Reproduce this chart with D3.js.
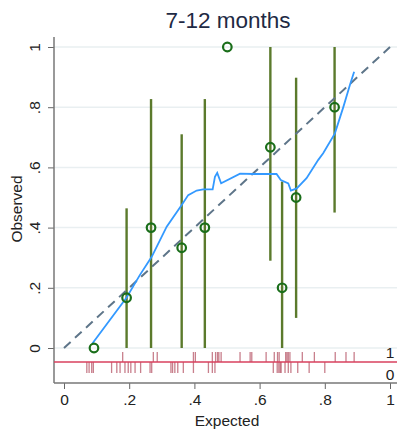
<!DOCTYPE html>
<html>
<head>
<meta charset="utf-8" />
<script src="https://d3js.org/d3.v7.min.js"></script>
<style>
  body { margin: 0; background: #fff; }
  * { font-family: "Liberation Sans", Arial, sans-serif; }
</style>
</head>
<body>
<script>
// grouped calibration points
const expected = [0.092, 0.192, 0.267, 0.361, 0.432, 0.501, 0.633, 0.669, 0.712, 0.830];
const observed = [0.0, 0.167, 0.40, 0.333, 0.40, 1.0, 0.667, 0.20, 0.50, 0.80];
const ciLow    = [0.0, 0.0, 0.0, 0.0, 0.0, 1.0, 0.29, 0.0, 0.10, 0.45];
const ciHigh   = [0.0, 0.464, 0.827, 0.71, 0.827, 1.0, 1.0, 0.553, 0.898, 1.0];

// lowess smoother
const smoothX = [0.087, 0.192, 0.233, 0.269, 0.315, 0.361, 0.381, 0.407, 0.427, 0.456, 0.463, 0.470, 0.482,
                 0.540, 0.581, 0.652, 0.665, 0.688, 0.696, 0.714, 0.744, 0.780, 0.795, 0.831, 0.857, 0.877, 0.890];
const smoothY = [0.015, 0.168, 0.243, 0.303, 0.403, 0.475, 0.508, 0.523, 0.527, 0.527, 0.569, 0.582, 0.547,
                 0.579, 0.578, 0.578, 0.558, 0.547, 0.523, 0.530, 0.564, 0.625, 0.647, 0.713, 0.801, 0.874, 0.918];

// rug of predictions by outcome
const rugOnes = [0.18, 0.274, 0.286, 0.397, 0.403, 0.455, 0.465, 0.471, 0.475, 0.482, 0.54, 0.571, 0.576,
                 0.62, 0.645, 0.655, 0.66, 0.68, 0.684, 0.688, 0.693, 0.731, 0.768, 0.832, 0.865, 0.89];
const rugZeros = [0.07, 0.077, 0.085, 0.09, 0.146, 0.162, 0.172, 0.187, 0.197, 0.205, 0.218, 0.235, 0.264,
                  0.269, 0.328, 0.333, 0.34, 0.349, 0.366, 0.397, 0.443, 0.455, 0.463, 0.642, 0.654, 0.659,
                  0.663, 0.666, 0.678, 0.688, 0.696, 0.717, 0.752, 0.80];

const ticks = [0, 0.2, 0.4, 0.6, 0.8, 1];
const tickLabels = ["0", ".2", ".4", ".6", ".8", "1"];

const W = 398, H = 435;
const svg = d3.select("body").append("svg").attr("width", W).attr("height", H);

const x = d3.scaleLinear().domain([0, 1]).range([64, 390]);
const y = d3.scaleLinear().domain([0, 1]).range([348, 47]);
const axisLeft = 54, axisBottom = 383, rightEdge = 397;
const rugMid = 362;

// title
svg.append("text").attr("x", 228).attr("y", 28).attr("text-anchor", "middle")
  .attr("font-size", 22.5).attr("fill", "#1e2a44").text("7-12 months");

// gridlines
svg.append("g").selectAll("line").data(ticks).join("line")
  .attr("x1", axisLeft).attr("x2", rightEdge)
  .attr("y1", d => y(d)).attr("y2", d => y(d))
  .attr("stroke", "#e9eff1").attr("stroke-width", 1.5);

// y axis
const yAxis = svg.append("g").attr("transform", `translate(${axisLeft},0)`)
  .call(d3.axisLeft(y).tickValues(ticks).tickFormat((d, i) => tickLabels[i]).tickSize(6).tickPadding(0));
yAxis.select(".domain").remove();
yAxis.selectAll(".tick line").attr("stroke", "#666");
yAxis.selectAll(".tick text").attr("font-size", 15.5).attr("fill", "#222")
  .attr("text-anchor", "middle").attr("transform", "translate(-19,0) rotate(-90)").attr("dy", "0.35em").attr("x", 0);
svg.append("line").attr("x1", axisLeft).attr("x2", axisLeft).attr("y1", 37).attr("y2", axisBottom)
  .attr("stroke", "#777").attr("stroke-width", 1.5);

// x axis
const xAxis = svg.append("g").attr("transform", `translate(0,${axisBottom})`)
  .call(d3.axisBottom(x).tickValues(ticks).tickFormat((d, i) => tickLabels[i]).tickSize(6).tickPadding(5));
xAxis.select(".domain").remove();
xAxis.selectAll(".tick line").attr("stroke", "#666");
xAxis.selectAll(".tick text").attr("font-size", 15.5).attr("fill", "#222");
svg.append("line").attr("x1", axisLeft).attr("x2", rightEdge).attr("y1", axisBottom).attr("y2", axisBottom)
  .attr("stroke", "#777").attr("stroke-width", 1.5);

// axis titles
svg.append("text").attr("transform", "translate(22,209) rotate(-90)").attr("text-anchor", "middle")
  .attr("font-size", 15.5).attr("fill", "#222").text("Observed");
svg.append("text").attr("x", 227).attr("y", 426).attr("text-anchor", "middle")
  .attr("font-size", 15.5).attr("fill", "#222").text("Expected");

// rug
svg.append("g").selectAll("line").data(rugOnes).join("line")
  .attr("x1", d => x(d)).attr("x2", d => x(d)).attr("y1", 352).attr("y2", rugMid)
  .attr("stroke", "#a3293f").attr("stroke-opacity", 0.6).attr("stroke-width", 1.3);
svg.append("g").selectAll("line").data(rugZeros).join("line")
  .attr("x1", d => x(d)).attr("x2", d => x(d)).attr("y1", rugMid).attr("y2", 373)
  .attr("stroke", "#a3293f").attr("stroke-opacity", 0.6).attr("stroke-width", 1.3);
svg.append("line").attr("x1", axisLeft).attr("x2", rightEdge).attr("y1", rugMid).attr("y2", rugMid)
  .attr("stroke", "#d8405e").attr("stroke-width", 1.6);
svg.append("text").attr("x", 390).attr("y", 358).attr("text-anchor", "middle")
  .attr("font-size", 15.5).attr("fill", "#222").text("1");
svg.append("text").attr("x", 390).attr("y", 380).attr("text-anchor", "middle")
  .attr("font-size", 15.5).attr("fill", "#222").text("0");

// error bars
const idx = d3.range(expected.length);
svg.append("g").selectAll("line").data(idx.filter(i => ciHigh[i] > ciLow[i])).join("line")
  .attr("x1", i => x(expected[i])).attr("x2", i => x(expected[i]))
  .attr("y1", i => y(ciLow[i])).attr("y2", i => y(ciHigh[i]))
  .attr("stroke", "#5b7a2c").attr("stroke-width", 2.4);

// reference diagonal
svg.append("line").attr("x1", x(0)).attr("y1", y(0)).attr("x2", x(1)).attr("y2", y(1))
  .attr("stroke", "#5e7589").attr("stroke-width", 2).attr("stroke-dasharray", "9,6");

// lowess
const line = d3.line().x(d => x(d[0])).y(d => y(d[1]));
svg.append("path").datum(smoothX.map((v, i) => [v, smoothY[i]])).attr("d", line)
  .attr("fill", "none").attr("stroke", "#3399ff").attr("stroke-width", 1.8);

// points
svg.append("g").selectAll("circle").data(idx).join("circle")
  .attr("cx", i => x(expected[i])).attr("cy", i => y(observed[i])).attr("r", 4.3)
  .attr("fill", "none").attr("stroke", "#1a6e1a").attr("stroke-width", 2.2);
</script>
</body>
</html>
